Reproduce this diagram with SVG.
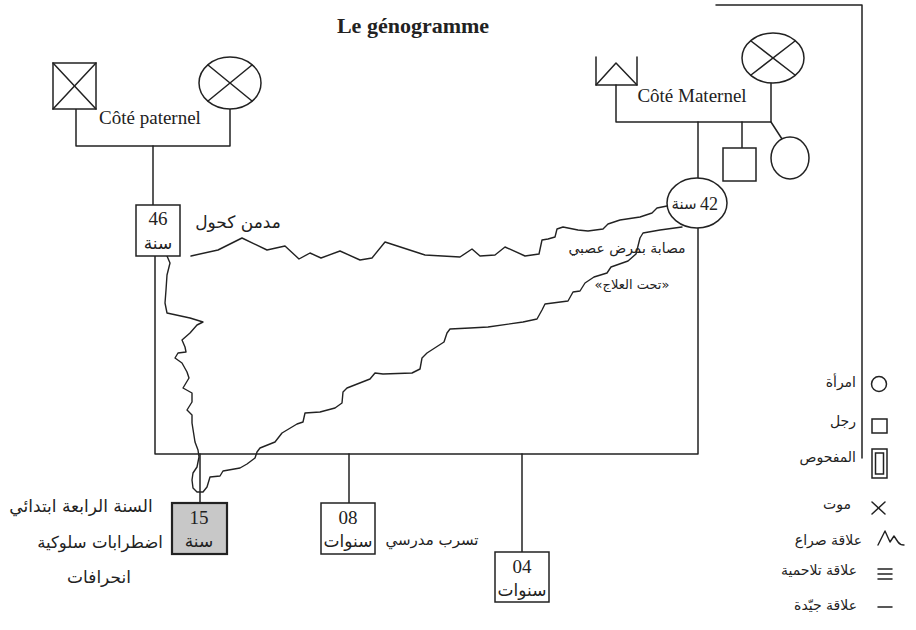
<svg xmlns="http://www.w3.org/2000/svg" width="916" height="630" viewBox="0 0 916 630">
<style>
  .ln{fill:none;stroke:#222;stroke-width:1.5;stroke-linejoin:round;stroke-linecap:round}
  .sh{fill:#fff;stroke:#222;stroke-width:1.5}
  .wv{fill:none;stroke:#222;stroke-width:1.4;stroke-linejoin:round;stroke-linecap:round}
  .lat{font-family:"Liberation Serif","DejaVu Sans",serif;fill:#222}
  .ar{font-family:"DejaVu Sans","Noto Sans",sans-serif;fill:#222}
  .lg{font-family:"DejaVu Sans","Noto Sans",sans-serif;fill:#222;font-size:14px;text-anchor:end}
</style>
<rect width="916" height="630" fill="#fff"/>
<text class="lat" x="413" y="33" font-size="22" font-weight="bold" text-anchor="middle">Le génogramme</text>

<g id="connectors">
  <polyline class="ln" points="716,5 862,5 862,458"/>
  <polyline class="ln" points="76,109 76,146 230,146 230,109"/>
  <line class="ln" x1="153" y1="146" x2="153" y2="205"/>
  <polyline class="ln" points="616,85 616,122 771,122 771,83"/>
  <line class="ln" x1="698" y1="122" x2="698" y2="178"/>
  <line class="ln" x1="742" y1="122" x2="742" y2="148"/>
  <line class="ln" x1="771" y1="122" x2="782" y2="139"/>
  <polyline class="ln" points="155,256 155,454 698,454 698,228"/>
  <line class="ln" x1="200" y1="454" x2="200" y2="503"/>
  <line class="ln" x1="349" y1="454" x2="349" y2="503"/>
  <line class="ln" x1="522" y1="454" x2="522" y2="552"/>
  <polyline class="wv" points="191,256 218,250 242,238 267,250 285,246 299,259 310,253 321,258 340,251 360,260 372,258 385,242 425,255 460,257 472,249 480,256 495,255 505,247 525,256 539,254 542,240 548,239 555,237 557,229 563,227 578,230 588,231 603,229 608,224 620,220 640,217 652,213 657,208 667,206 670,204"/>
  <polyline class="wv" points="682,227 660,230 643,233 640,238 636,254 628,261 611,267 607,273 594,277 585,283 580,291 573,292 568,301 545,304 542,310 537,319 523,322 488,327 470,328 450,329 447,333 444,342 427,353 422,358 420,369 412,373 383,374 375,373 370,379 347,388 343,392 342,403 335,408 320,412 305,413 303,422 297,424 282,433 275,442 260,448 257,452 255,458 247,464 240,468 223,471 220,476 210,477 207,487 203,492 197,492 193,488 192,480 193,473 197,467 199,457 198,450 195,442 192,423 192,415 187,410 192,402 192,393 183,388 189,378 187,372 182,363 175,358 178,353 186,352 185,347 182,340 190,333 197,325 203,322 190,318 167,313 165,303 166,290 167,275 170,263 167,256"/>
</g>

<g id="pat-grandfather">
  <rect class="sh" x="53" y="63" width="43" height="46"/>
  <line class="ln" x1="53" y1="63" x2="96" y2="109"/>
  <line class="ln" x1="96" y1="63" x2="53" y2="109"/>
</g>
<g id="pat-grandmother">
  <ellipse class="sh" cx="230" cy="83" rx="31" ry="26"/>
  <line class="ln" x1="208" y1="65" x2="252" y2="101"/>
  <line class="ln" x1="252" y1="65" x2="208" y2="101"/>
</g>
<text class="lat" x="150" y="124" font-size="19" text-anchor="middle">Côté paternel</text>

<g id="mat-grandfather">
  <polyline class="ln" points="596,57 596,85 637,85 637,57"/>
  <polyline class="ln" points="596,85 616,63 637,85"/>
</g>
<g id="mat-grandmother">
  <ellipse class="sh" cx="773" cy="58" rx="31" ry="25"/>
  <line class="ln" x1="751" y1="41" x2="795" y2="75"/>
  <line class="ln" x1="795" y1="41" x2="751" y2="75"/>
</g>
<text class="lat" x="692" y="102" font-size="19" text-anchor="middle">Côté Maternel</text>
<g id="uncle">
  <rect class="sh" x="723" y="148" width="33" height="33"/>
</g>
<g id="aunt">
  <ellipse class="sh" cx="790" cy="158" rx="19" ry="21"/>
</g>

<g id="father">
  <rect class="sh" x="136" y="205" width="44" height="51"/>
  <text class="lat" x="158" y="225" font-size="19" text-anchor="middle">46</text>
  <text class="ar" x="158" y="249" font-size="17" text-anchor="middle">سنة</text>
</g>
<text class="ar" x="238" y="228" font-size="17" text-anchor="middle">مدمن كحول</text>

<g id="mother">
  <ellipse class="sh" cx="697" cy="203" rx="30" ry="25"/>
  <text class="ar" x="684" y="209" font-size="15" text-anchor="middle">سنة</text>
  <text class="lat" x="709" y="210" font-size="18" text-anchor="middle">42</text>
</g>
<text class="ar" x="627" y="253" font-size="14" text-anchor="middle">مصابة بمرض عصبي</text>
<text class="ar" x="632" y="289" font-size="13" text-anchor="middle">«تحت العلاج»</text>

<g id="child15">
  <rect x="172" y="503" width="55" height="51" fill="#c8c8c8" stroke="#222" stroke-width="2.2"/>
  <text class="lat" x="199" y="524" font-size="19" text-anchor="middle">15</text>
  <text class="ar" x="199" y="547" font-size="17" text-anchor="middle">سنة</text>
</g>
<text class="ar" x="81" y="512" font-size="17" text-anchor="middle">السنة الرابعة ابتدائي</text>
<text class="ar" x="100" y="548" font-size="16.5" text-anchor="middle">اضطرابات سلوكية</text>
<text class="ar" x="99" y="583" font-size="17" text-anchor="middle">انحرافات</text>

<g id="child08">
  <rect class="sh" x="321" y="503" width="54" height="51"/>
  <text class="lat" x="348" y="524" font-size="19" text-anchor="middle">08</text>
  <text class="ar" x="348" y="547" font-size="17" text-anchor="middle">سنوات</text>
</g>
<text class="ar" x="432" y="545" font-size="15" text-anchor="middle">تسرب مدرسي</text>

<g id="child04">
  <rect class="sh" x="495" y="552" width="54" height="50"/>
  <text class="lat" x="522" y="573" font-size="19" text-anchor="middle">04</text>
  <text class="ar" x="522" y="596" font-size="17" text-anchor="middle">سنوات</text>
</g>

<g id="legend">
  <circle class="sh" cx="879" cy="384" r="7.5"/>
  <text class="lg" x="856" y="387">امرأة</text>
  <rect class="sh" x="872" y="419" width="15" height="14"/>
  <text class="lg" x="856" y="426">رجل</text>
  <rect class="sh" x="872" y="449" width="15" height="29"/>
  <rect class="sh" x="875.5" y="453" width="8" height="21"/>
  <text class="lg" x="856" y="462">المفحوص</text>
  <line class="ln" x1="872" y1="502" x2="885" y2="514"/>
  <line class="ln" x1="885" y1="502" x2="872" y2="514"/>
  <text class="lg" x="851" y="509">موت</text>
  <path class="wv" d="M878,545 L885,531 L890,542 L894,536 L898,542 Q900,545 904,545"/>
  <text class="lg" x="862" y="545">علاقة صراع</text>
  <line class="ln" x1="878" y1="569" x2="892" y2="569"/>
  <line class="ln" x1="878" y1="574" x2="892" y2="574"/>
  <line class="ln" x1="878" y1="579" x2="892" y2="579"/>
  <text class="lg" x="857" y="575">علاقة تلاحمية</text>
  <line class="ln" x1="878" y1="607" x2="892" y2="607"/>
  <text class="lg" x="857" y="610">علاقة جيّدة</text>
</g>
</svg>
